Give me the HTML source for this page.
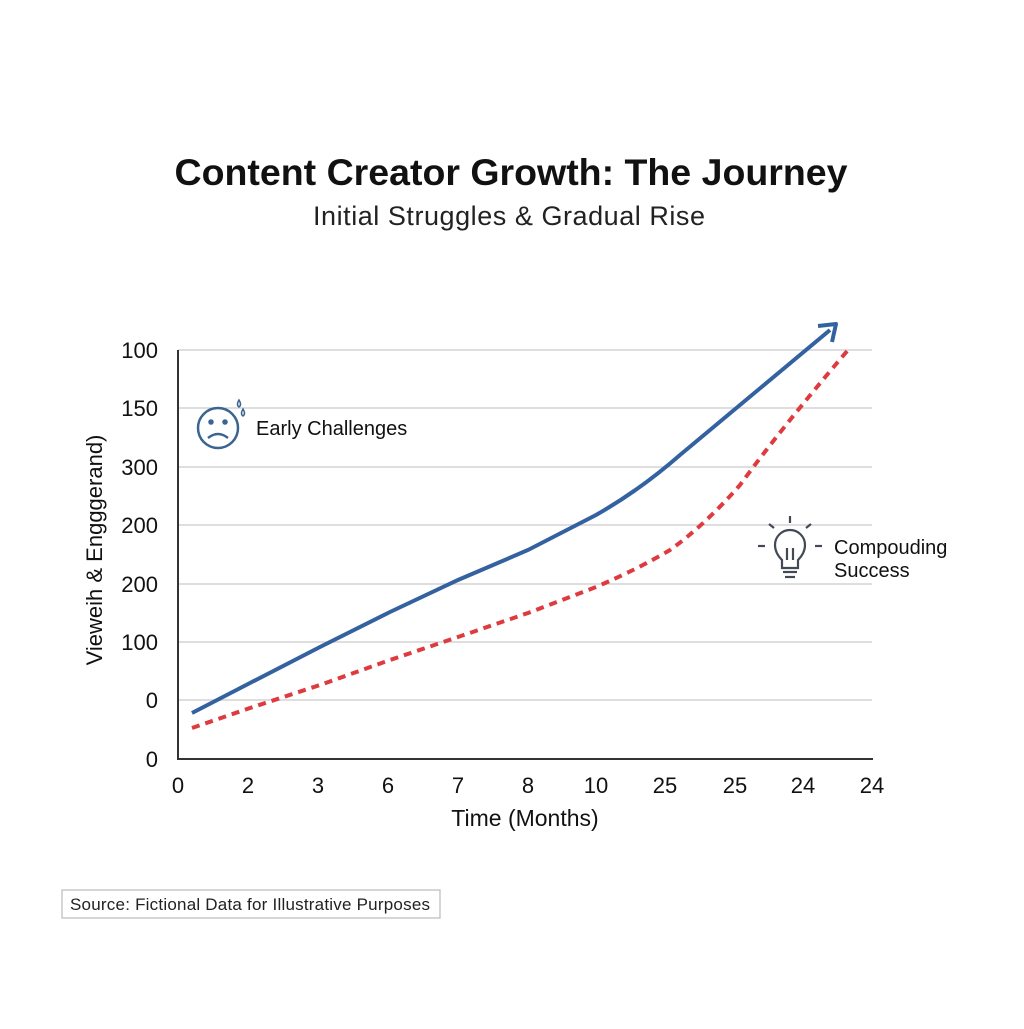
<!DOCTYPE html>
<html><head><style>body{margin:0;background:#fff}</style></head><body>
<svg width="1024" height="1024" viewBox="0 0 1024 1024" xmlns="http://www.w3.org/2000/svg" font-family="Liberation Sans, sans-serif">
<rect width="1024" height="1024" fill="#fff"/>
<text x="511" y="185" text-anchor="middle" font-size="37.5" font-weight="bold" fill="#111">Content Creator Growth: The Journey</text>
<text x="509" y="225" text-anchor="middle" font-size="27" fill="#222" textLength="392">Initial Struggles &amp; Gradual Rise</text>
<g stroke="#d4d4d4" stroke-width="1.5">
<line x1="178" y1="350" x2="872" y2="350"/><line x1="178" y1="408" x2="872" y2="408"/>
<line x1="178" y1="467" x2="872" y2="467"/><line x1="178" y1="525" x2="872" y2="525"/>
<line x1="178" y1="584" x2="872" y2="584"/><line x1="178" y1="642" x2="872" y2="642"/>
<line x1="178" y1="700" x2="872" y2="700"/>
</g>
<line x1="178" y1="350" x2="178" y2="759" stroke="#333" stroke-width="2"/>
<line x1="177" y1="759" x2="873" y2="759" stroke="#333" stroke-width="2"/>
<g font-size="22" fill="#111" text-anchor="end">
<text x="158" y="358">100</text><text x="158" y="416">150</text><text x="158" y="475">300</text>
<text x="158" y="533">200</text><text x="158" y="592">200</text><text x="158" y="650">100</text>
<text x="158" y="708">0</text><text x="158" y="767">0</text>
</g>
<g font-size="22" fill="#111" text-anchor="middle">
<text x="178" y="793">0</text><text x="248" y="793">2</text><text x="318" y="793">3</text>
<text x="388" y="793">6</text><text x="458" y="793">7</text><text x="528" y="793">8</text>
<text x="596" y="793">10</text><text x="665" y="793">25</text><text x="735" y="793">25</text>
<text x="803" y="793">24</text><text x="872" y="793">24</text>
</g>
<text x="525" y="826" text-anchor="middle" font-size="23" fill="#111">Time (Months)</text>
<text transform="translate(102,550) rotate(-90)" text-anchor="middle" font-size="22" fill="#111">Vieweih &amp; Engggerand)</text>
<path d="M192,728 L250,708 L320,685 L390,660 L458,637 L528,613 L596,587 Q640,568 670,550 Q705,525 740,485 Q780,430 848,350" fill="none" stroke="#dd3b40" stroke-width="4" stroke-dasharray="8,6"/>
<path d="M192,713 L250,683 L320,647 L390,612 L458,580 L528,550 L596,515 Q640,490 680,455 Q740,405 830,330" fill="none" stroke="#3461a0" stroke-width="4"/>
<path d="M818,326 L836,324 L832,342" fill="none" stroke="#3461a0" stroke-width="4" stroke-linejoin="round"/>
<g stroke="#3a6491" stroke-width="2.5" fill="none">
<circle cx="218" cy="428" r="20"/>
<circle cx="211" cy="422" r="1.5" fill="#3a6491"/><circle cx="225" cy="422" r="1.5" fill="#3a6491"/>
<path d="M208,438 Q218,430 228,438"/>
</g>
<path d="M239,400 q-3,5 0,7 q3,-2 0,-7z M243,409 q-3,5 0,7 q3,-2 0,-7z" fill="#fff" stroke="#3a6491" stroke-width="1.5"/>
<text x="256" y="435" font-size="20" fill="#111">Early Challenges</text>
<g stroke="#444a55" stroke-width="2.2" fill="none">
<path d="M782,568 L782,560 Q775,553 775,545 A15,15 0 0 1 805,545 Q805,553 798,560 L798,568 Z" fill="#fff"/>
<line x1="783" y1="572" x2="797" y2="572"/><line x1="785" y1="577" x2="795" y2="577"/>
<path d="M787,560 L787,548 M793,560 L793,548"/>
<line x1="790" y1="516" x2="790" y2="523"/><line x1="769" y1="524" x2="774" y2="528"/><line x1="811" y1="524" x2="806" y2="528"/>
<line x1="758" y1="546" x2="765" y2="546"/><line x1="815" y1="546" x2="822" y2="546"/>
</g>
<text x="834" y="554" font-size="20" fill="#111">Compouding</text>
<text x="834" y="577" font-size="20" fill="#111">Success</text>
<rect x="62" y="890" width="378" height="28" fill="#fff" stroke="#bbb" stroke-width="1.2"/>
<text x="70" y="910" font-size="17" fill="#222" textLength="360">Source: Fictional Data for Illustrative Purposes</text>
</svg>
</body></html>
